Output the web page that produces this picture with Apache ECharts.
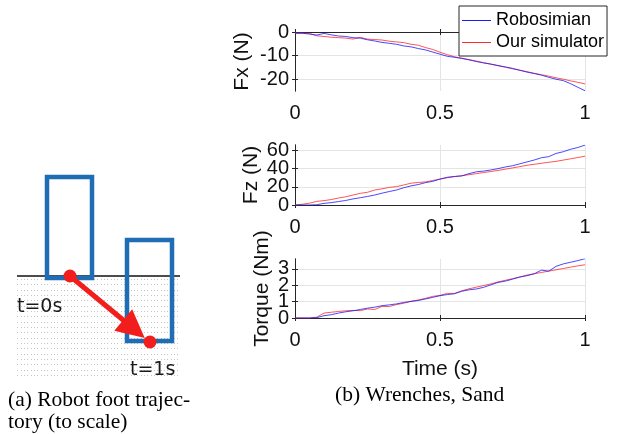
<!DOCTYPE html>
<html><head><meta charset="utf-8">
<script src="https://cdn.jsdelivr.net/npm/echarts@6/dist/echarts.min.js"></script>
<style>html,body{margin:0;padding:0;background:#fff}#c{width:618px;height:434px}</style>
</head><body><div id="c"></div>
<script>
// ---- data ----
const time = [0,0.025,0.05,0.075,0.1,0.125,0.15,0.175,0.2,0.225,0.25,0.275,0.3,0.325,0.35,0.375,0.4,0.425,0.45,0.475,0.5,0.525,0.55,0.575,0.6,0.625,0.65,0.675,0.7,0.725,0.75,0.775,0.8,0.825,0.85,0.875,0.9,0.925,0.95,0.975,1];
const fxRobosimian = [-0.5,-0.5,-0.9,-1.3,-0.6,-1.2,-1.7,-1.9,-2.4,-2.6,-3.3,-3.8,-4.4,-4.8,-5.2,-5.9,-6.3,-7.0,-7.6,-8.5,-9.4,-10.3,-10.7,-11.2,-11.8,-12.5,-13.1,-13.6,-14.2,-14.8,-15.4,-16.2,-17.0,-17.6,-18.3,-19.2,-20.0,-20.6,-21.9,-23.4,-24.9];
const fxSimulator = [-0.5,-0.5,-0.6,-1.6,-1.9,-2.2,-2.4,-2.6,-3.0,-2.3,-3.0,-3.2,-3.4,-3.9,-4.2,-4.5,-5.2,-5.6,-6.6,-7.4,-8.6,-9.6,-10.5,-11.1,-11.7,-12.3,-13.0,-13.6,-14.3,-14.9,-15.6,-16.2,-16.8,-17.5,-18.1,-18.7,-19.4,-20.0,-20.7,-21.3,-22.0];
const fzRobosimian = [0,0,0,0.3,1.8,2.6,3.8,5.0,6.7,8.0,9.4,11.0,13.0,14.8,16.5,19.0,21.0,22.5,24.6,26.0,28.5,30.5,31.4,32.0,34.5,36.5,37.3,38.5,40.0,41.8,43.2,45.3,47.4,49.5,52.0,53.2,56.7,58.6,61.3,63.2,65.9];
const fzSimulator = [0,0.8,2.0,4.0,4.8,6.0,7.7,9.0,11.0,12.8,14.0,16.5,17.8,19.4,20.2,22.0,24.0,24.8,25.4,27.0,28.5,30.0,31.2,32.2,33.3,34.5,35.7,36.8,38.0,39.4,40.8,42.2,43.7,44.8,45.9,47.0,48.0,49.4,50.8,52.2,53.7];
const torqueRobosimian = [0,0,0,0.02,0.14,0.2,0.3,0.38,0.44,0.52,0.6,0.66,0.75,0.8,0.86,0.95,1.01,1.07,1.16,1.26,1.36,1.43,1.48,1.63,1.72,1.77,1.87,2.02,2.17,2.25,2.37,2.5,2.58,2.7,2.92,2.86,3.15,3.3,3.4,3.5,3.62];
const torqueSimulator = [0,0,0,0.05,0.3,0.35,0.4,0.44,0.46,0.45,0.55,0.52,0.71,0.7,0.82,0.9,1.02,1.1,1.2,1.32,1.38,1.5,1.5,1.66,1.78,1.88,1.98,2.08,2.2,2.3,2.4,2.5,2.62,2.7,2.78,2.86,2.94,3.02,3.1,3.18,3.25];
const seriesNames = ['Robosimian', 'Our simulator'];
const yNames = ['Fx (N)', 'Fz (N)', 'Torque (Nm)'];
const yMins = [-25, 0, 0];
const yMaxs = [0, 66, 3.6];
const yTicks = [[-20, -10, 0], [0, 20, 40, 60], [0, 1, 2, 3]];
const xTicks = [0, 0.5, 1];
const xName = 'Time (s)';
// diagram (robot foot trajectory, units ~ px at scale)
const sandBox = [[0, 0, 163, -102]];
const groundLine = [[0, 0], [163, 0]];
const footBoxes = [[30, 99, 75, -2], [110, 36, 155, -65]];
const footPoints = [[53, 0], [133, -66]];
const arrowPath = [[53, 0], [117, -53]];
const timeLabels = ['t=0s', 't=1s'];
const timeLabelPos = [[0, -31], [113, -94]];
const captionA = ['(a) Robot foot trajec-', 'tory (to scale)'];
const captionB = '(b) Wrenches, Sand';

// ---- styles ----
const AX = '#262626';
const GRIDC = '#e4e4e4';
const FONT = 'Liberation Sans';
const blue = '#1a1aff';
const red = '#ff2a2a';
const grids = [
  {left: 295, top: 32, width: 290, height: 59},
  {left: 295, top: 145, width: 290, height: 60},
  {left: 295, top: 259, width: 290, height: 59},
  {left: 17, top: 160, width: 163, height: 218}
];
const yNameGaps = [42, 33, 22];

const labelCommon = {show: true, fontSize: 20, color: '#111', fontFamily: FONT, hideOverlap: false, showMinLabel: true, showMaxLabel: true};
const xAxes = [], yAxes = [], series = [];
for (let i = 0; i < 3; i++) {
  xAxes.push({
    type: 'value', gridIndex: i, min: 0, max: 1, position: 'bottom',
    name: i === 2 ? xName : '', nameLocation: 'middle', nameGap: 41,
    nameTextStyle: {fontSize: 21, color: '#111', fontFamily: FONT},
    axisLine: {show: true, lineStyle: {color: AX, width: 1}},
    axisTick: {show: true, inside: true, length: 3, lineStyle: {color: AX}, customValues: xTicks},
    axisLabel: Object.assign({}, labelCommon, {margin: 12, customValues: xTicks}),
    splitLine: {show: true, lineStyle: {color: GRIDC, width: 1}}
  });
  yAxes.push({
    type: 'value', gridIndex: i, min: yMins[i], max: yMaxs[i], position: 'left',
    name: yNames[i], nameLocation: 'middle', nameRotate: 90, nameGap: yNameGaps[i],
    nameTextStyle: {fontSize: 21, color: '#111', fontFamily: FONT},
    axisLine: {show: true, lineStyle: {color: AX, width: 1}},
    axisTick: {show: true, inside: true, length: 3, lineStyle: {color: AX}, customValues: yTicks[i]},
    axisLabel: Object.assign({}, labelCommon, {margin: 6, customValues: yTicks[i].filter((v, k) => k % 2 === 0)}),
    splitLine: {show: true, lineStyle: {color: GRIDC, width: 1}}
  });
}
for (let i = 0; i < 3; i++) {
  xAxes.push({
    type: 'value', gridIndex: i, min: 0, max: 1, position: 'top',
    axisLine: {show: true, lineStyle: {color: AX, width: 1}},
    axisTick: {show: true, inside: true, length: 3, lineStyle: {color: AX}, customValues: xTicks},
    axisLabel: {show: false}, splitLine: {show: false}
  });
  yAxes.push({
    type: 'value', gridIndex: i, min: yMins[i], max: yMaxs[i], position: 'right',
    axisLine: {show: true, lineStyle: {color: AX, width: 1}},
    axisTick: {show: true, inside: true, length: 3, lineStyle: {color: AX}, customValues: yTicks[i]},
    axisLabel: {show: false}, splitLine: {show: false}
  });
}
xAxes.push({type: 'value', gridIndex: 3, min: 0, max: 163, show: false});
yAxes.push({type: 'value', gridIndex: 3, min: -102, max: 116, show: false});
// label-only companion axes (odd ticks), so the dense labels are not culled
for (let i = 0; i < 3; i++) {
  yAxes.push({
    type: 'value', gridIndex: i, min: yMins[i], max: yMaxs[i], position: 'left', offset: 0,
    axisLine: {show: false}, axisTick: {show: false}, splitLine: {show: false},
    axisLabel: Object.assign({}, labelCommon, {margin: 6, customValues: yTicks[i].filter((v, k) => k % 2 === 1)})
  });
}

const plotData = [[fxRobosimian, fxSimulator], [fzRobosimian, fzSimulator], [torqueRobosimian, torqueSimulator]];
for (let i = 0; i < 3; i++) {
  [0, 1].forEach(k => {
    series.push({
      type: 'line', name: seriesNames[k], xAxisIndex: i, yAxisIndex: i,
      data: time.map((t, j) => [t, plotData[i][k][j]]),
      symbol: 'none', showSymbol: false, animation: false,
      lineStyle: {color: k === 0 ? blue : red, width: 0.8},
      itemStyle: {color: k === 0 ? blue : red},
      z: k === 0 ? 3 : 2
    });
  });
}

// sand dot pattern
const pc = document.createElement('canvas');
pc.width = 10; pc.height = 16;
const pctx = pc.getContext('2d');
pctx.fillStyle = '#c4c4c4';
[1, 4, 7].forEach(x => [2, 7, 12].forEach(y => pctx.fillRect(x, y, 1, 1)));
const sandPattern = {image: pc, repeat: 'repeat'};

function rectItem(api) {
  const p0 = api.coord([api.value(0), api.value(1)]);
  const p1 = api.coord([api.value(2), api.value(3)]);
  return {x: Math.min(p0[0], p1[0]), y: Math.min(p0[1], p1[1]), width: Math.abs(p1[0] - p0[0]), height: Math.abs(p1[1] - p0[1])};
}
series.push({
  type: 'custom', xAxisIndex: 6, yAxisIndex: 6, data: sandBox, z: 1, silent: true,
  renderItem: (p, api) => ({type: 'rect', shape: rectItem(api), style: {fill: sandPattern}})
});
series.push({
  type: 'line', xAxisIndex: 6, yAxisIndex: 6, data: groundLine, symbol: 'none', z: 2,
  lineStyle: {color: '#111', width: 1.5}
});
series.push({
  type: 'custom', xAxisIndex: 6, yAxisIndex: 6, data: footBoxes, z: 3, silent: true,
  renderItem: (p, api) => ({type: 'rect', shape: rectItem(api), style: {fill: 'transparent', stroke: '#1f6db5', lineWidth: 4.5}})
});
series.push({
  type: 'lines', coordinateSystem: 'cartesian2d', xAxisIndex: 6, yAxisIndex: 6, z: 4,
  data: [{coords: arrowPath}], symbol: ['none', 'triangle'], symbolSize: 28,
  lineStyle: {color: '#f21d1d', width: 5, opacity: 1}, itemStyle: {color: '#f21d1d'}
});
series.push({
  type: 'scatter', xAxisIndex: 6, yAxisIndex: 6, data: footPoints, z: 5,
  symbolSize: 13, itemStyle: {color: '#f21d1d', opacity: 1}
});
series.push({
  type: 'scatter', xAxisIndex: 6, yAxisIndex: 6, z: 5,
  data: timeLabelPos.map((p, i) => ({value: p, name: timeLabels[i]})),
  symbolSize: 0, itemStyle: {color: '#222', opacity: 1},
  label: {show: true, position: 'right', distance: 0, formatter: '{b}', fontSize: 19, color: '#1a1a1a', opacity: 1, fontFamily: 'DejaVu Sans'}
});

const chart = echarts.init(document.getElementById('c'), null, {renderer: 'canvas'});
chart.setOption({
  animation: false,
  backgroundColor: '#fff',
  grid: grids,
  xAxis: xAxes,
  yAxis: yAxes,
  legend: {
    data: seriesNames, orient: 'vertical', left: 459, top: 6, icon: 'rect',
    backgroundColor: '#fff', borderColor: AX, borderWidth: 1, borderRadius: 0,
    padding: [5, 3, 4, 3], itemGap: 3, itemWidth: 29, itemHeight: 1,
    textStyle: {fontSize: 18, color: '#000', fontFamily: FONT, lineHeight: 19},
    selectedMode: false
  },
  graphic: [
    {type: 'text', left: 8, top: 389, style: {text: captionA[0], font: '21.5px "Liberation Serif"', fill: '#000'}},
    {type: 'text', left: 8, top: 411, style: {text: captionA[1], font: '21.5px "Liberation Serif"', fill: '#000'}},
    {type: 'text', left: 335, top: 384, style: {text: captionB, font: '21.5px "Liberation Serif"', fill: '#000'}}
  ],
  series: series
});
</script>
</body></html>
